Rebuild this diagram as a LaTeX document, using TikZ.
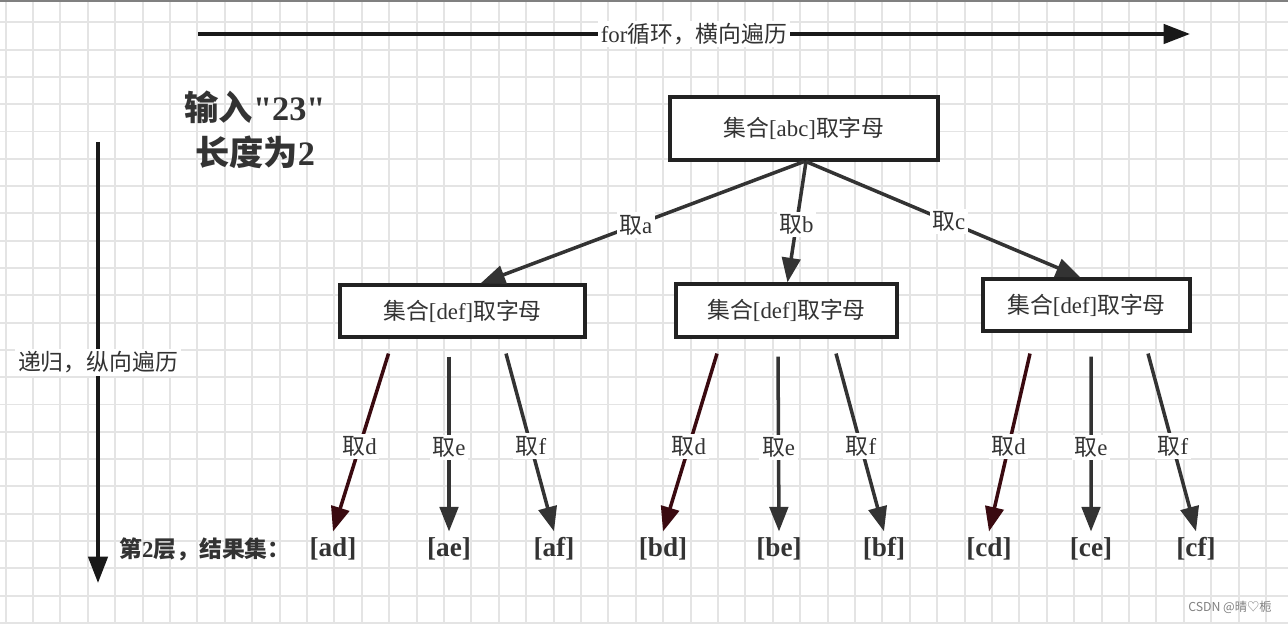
\documentclass[tikz,border=0pt]{standalone}
\usepackage{fontspec}
\setmainfont{Liberation Serif}
\newfontfamily\cjk{Noto Sans CJK SC}
\newcommand{\zh}[1]{{\cjk #1}}
\usetikzlibrary{positioning, arrows.meta, calc}

\definecolor{gridgray}{HTML}{E4E4E4}
\definecolor{txt}{HTML}{333333}
\definecolor{edge}{HTML}{333333}
\definecolor{edgered}{HTML}{3A0A10}
\definecolor{boxline}{HTML}{222222}

\begin{document}
\begin{tikzpicture}[
        x=0.02cm, y=-0.02cm,
        block/.style={
            rectangle,
            draw=boxline,
            line width=1.8pt,
            fill=white,
            text=txt,
            align=center,
            font=\fontsize{13}{15}\selectfont
        },
        plain/.style={
            text=txt,
            align=center,
            font=\fontsize{13}{15}\selectfont
        },
        leaf/.style={
            text=txt,
            font=\fontsize{15.5}{18}\selectfont\bfseries
        },
        lbl/.style={fill=white, inner sep=1.5pt, text=txt, font=\fontsize{13}{15}\selectfont},
        line/.style={draw=edge, line width=2pt, -{Triangle[length=14pt,width=10.5pt]}},
        dline/.style={line, draw=edgered},
        bigline/.style={draw=black!90, line width=2pt, -{Triangle[length=15pt,width=11pt]}}
    ]
        % Background
        \useasboundingbox (0,0) rectangle (1288,624);
        \fill[white] (0,0) rectangle (1288,624);
        \foreach \i in {0,...,46}
            \draw[gridgray, line width=1.1pt] ({5.6+27.4*\i},0) -- ++(0,624);
        \foreach \j in {1,...,23}
            \draw[gridgray, line width=1.1pt] (0,{-5+27.3*\j}) -- ++(1288,0);
        \fill[gray] (0,0) rectangle (1288,2.5);

        % Traversal arrows
        \coordinate (hs) at (198,34);
        \coordinate (he) at (1190,34);
        \coordinate (vs) at (98,142);
        \coordinate (ve) at (98,583);
        \path [bigline] (hs) -- node[lbl] (hlab) {for\zh{循环，横向遍历}} (he);
        \path [bigline] (vs) -- node[lbl] (vlab) {\zh{递归，纵向遍历}} (ve);

        % Nodes
        \node [plain, font=\fontsize{19.5}{25.6}\selectfont\bfseries] (title) at (255,130) {\zh{输入}\textquotedbl 23\textquotedbl\\\zh{长度为}2};
        \node [block, minimum width=5.36cm, minimum height=1.26cm] (root) at (804,128.5) {\zh{集合}[abc]\zh{取字母}};
        \node [block, minimum width=4.9cm, minimum height=1.04cm] (b1) at (462.5,311) {\zh{集合}[def]\zh{取字母}};
        \node [block, minimum width=4.42cm, minimum height=1.06cm] (b2) at (786.5,310.5) {\zh{集合}[def]\zh{取字母}};
        \node [block, minimum width=4.14cm, minimum height=1.04cm] (b3) at (1086.5,305) {\zh{集合}[def]\zh{取字母}};

        \node [plain, font=\fontsize{13}{15}\selectfont\bfseries] (res) at (205,549) {\zh{第}2\zh{层，结果集：}};
        \node [leaf] (ad) at (333,549) {[ad]};
        \node [leaf] (ae) at (449,549) {[ae]};
        \node [leaf] (af) at (554,549) {[af]};
        \node [leaf] (bd) at (663,549) {[bd]};
        \node [leaf] (be) at (779,549) {[be]};
        \node [leaf] (bf) at (884,549) {[bf]};
        \node [leaf] (cd) at (989,549) {[cd]};
        \node [leaf] (ce) at (1091,549) {[ce]};
        \node [leaf] (cf) at (1196,549) {[cf]};

        \node [font=\cjk\fontsize{7}{8}\selectfont, text=gray] (mark) at (1230,607) {CSDN @晴♡栀};

        % Paths, first level
        \path [line] (root.south) -- node[lbl, pos=0.52] {\zh{取}a} ($(b1.north)+(18,0)$);
        \path [line] ($(root.south)+(2,0)$) -- node[lbl, pos=0.52] {\zh{取}b} ($(b2.north)+(1,0)$);
        \path [line] ($(root.south)+(2,0)$) -- node[lbl, pos=0.52] {\zh{取}c} ($(b3.north)+(-6,0)$);

        % Paths, second level
        \path [dline] ($(b1.south)+(-74,15)$) -- node[lbl, pos=0.52] {\zh{取}d} (ad.north);
        \path [line] ($(b1.south)+(-13.5,18)$) -- node[lbl, pos=0.52] {\zh{取}e} (ae.north);
        \path [line] ($(b1.south)+(43.5,15)$) -- node[lbl, pos=0.52] {\zh{取}f} (af.north);

        \path [dline] ($(b2.south)+(-69.5,15)$) -- node[lbl, pos=0.52] {\zh{取}d} (bd.north);
        \path [line] ($(b2.south)+(-8.5,18)$) -- node[lbl, pos=0.52] {\zh{取}e} (be.north);
        \path [line] ($(b2.south)+(49.5,15)$) -- node[lbl, pos=0.52] {\zh{取}f} (bf.north);

        \path [dline] ($(b3.south)+(-56.5,21)$) -- node[lbl, pos=0.52] {\zh{取}d} (cd.north);
        \path [line] ($(b3.south)+(4.5,24)$) -- node[lbl, pos=0.52] {\zh{取}e} (ce.north);
        \path [line] ($(b3.south)+(61.5,21)$) -- node[lbl, pos=0.52] {\zh{取}f} (cf.north);
    \end{tikzpicture}
\end{document}
